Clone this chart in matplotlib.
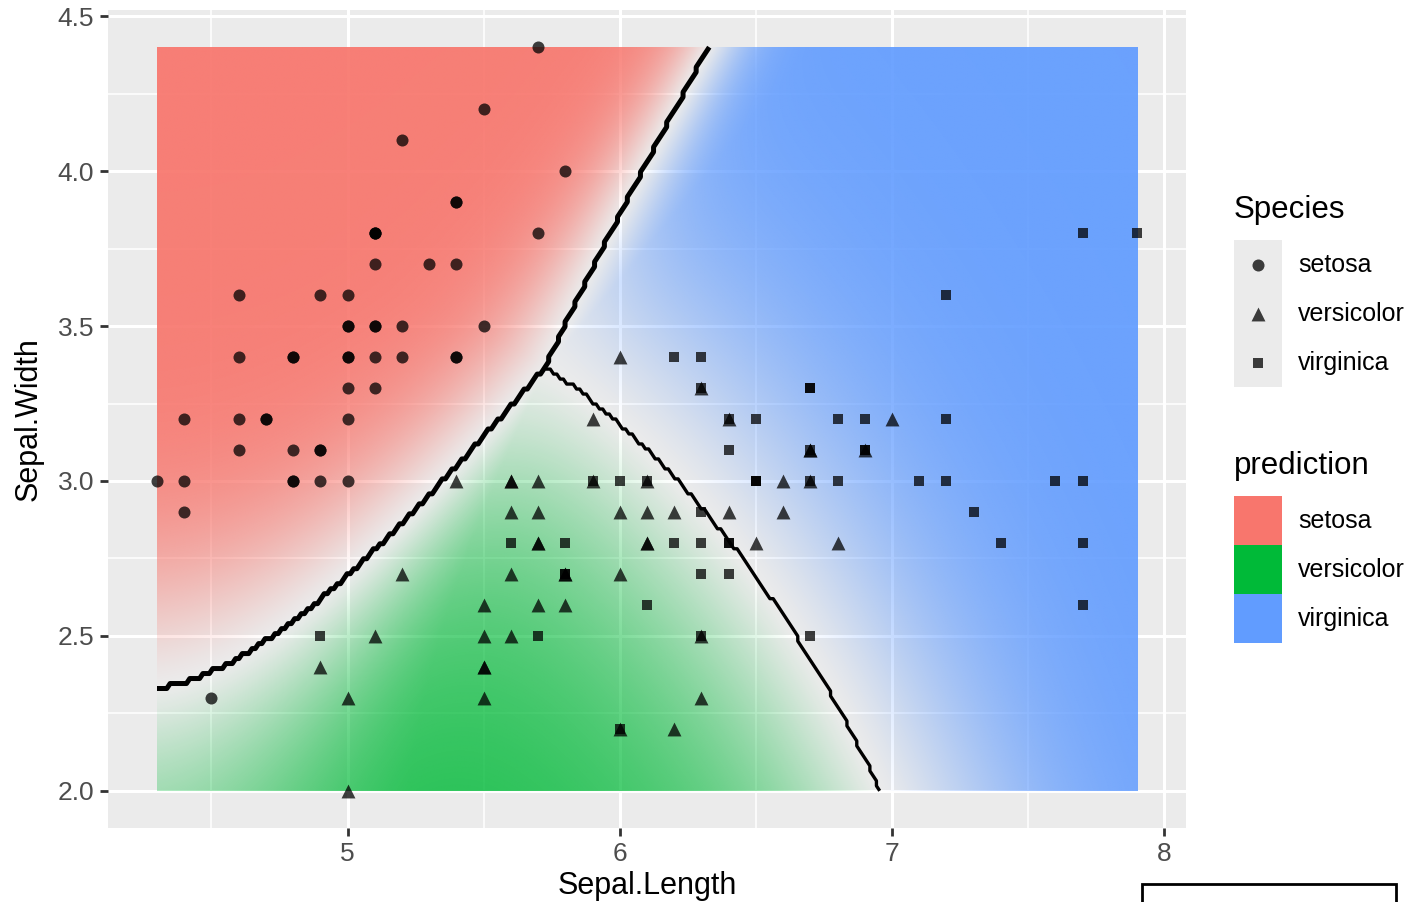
import numpy as np
import matplotlib.pyplot as plt
from matplotlib.patches import Rectangle

plt.rcParams['font.family'] = ['Liberation Sans', 'DejaVu Sans']

# iris data (Sepal.Length, Sepal.Width)
species = ['setosa', 'versicolor', 'virginica']
setosa_len = [5.1, 4.9, 4.7, 4.6, 5.0, 5.4, 4.6, 5.0, 4.4, 4.9, 5.4, 4.8, 4.8, 4.3, 5.8, 5.7, 5.4, 5.1, 5.7, 5.1,
              5.4, 5.1, 4.6, 5.1, 4.8, 5.0, 5.0, 5.2, 5.2, 4.7, 4.8, 5.4, 5.2, 5.5, 4.9, 5.0, 5.5, 4.9, 4.4, 5.1,
              5.0, 4.5, 4.4, 5.0, 5.1, 4.8, 5.1, 4.6, 5.3, 5.0]
setosa_wid = [3.5, 3.0, 3.2, 3.1, 3.6, 3.9, 3.4, 3.4, 2.9, 3.1, 3.7, 3.4, 3.0, 3.0, 4.0, 4.4, 3.9, 3.5, 3.8, 3.8,
              3.4, 3.7, 3.6, 3.3, 3.4, 3.0, 3.4, 3.5, 3.4, 3.2, 3.1, 3.4, 4.1, 4.2, 3.1, 3.2, 3.5, 3.6, 3.0, 3.4,
              3.5, 2.3, 3.2, 3.5, 3.8, 3.0, 3.8, 3.2, 3.7, 3.3]
versicolor_len = [7.0, 6.4, 6.9, 5.5, 6.5, 5.7, 6.3, 4.9, 6.6, 5.2, 5.0, 5.9, 6.0, 6.1, 5.6, 6.7, 5.6, 5.8, 6.2, 5.6,
                  5.9, 6.1, 6.3, 6.1, 6.4, 6.6, 6.8, 6.7, 6.0, 5.7, 5.5, 5.5, 5.8, 6.0, 5.4, 6.0, 6.7, 6.3, 5.6, 5.5,
                  5.5, 6.1, 5.8, 5.0, 5.6, 5.7, 5.7, 6.2, 5.1, 5.7]
versicolor_wid = [3.2, 3.2, 3.1, 2.3, 2.8, 2.8, 3.3, 2.4, 2.9, 2.7, 2.0, 3.0, 2.2, 2.9, 2.9, 3.1, 3.0, 2.7, 2.2, 2.5,
                  3.2, 2.8, 2.5, 2.8, 2.9, 3.0, 2.8, 3.0, 2.9, 2.6, 2.4, 2.4, 2.7, 2.7, 3.0, 3.4, 3.1, 2.3, 3.0, 2.5,
                  2.6, 3.0, 2.6, 2.3, 2.7, 3.0, 2.9, 2.9, 2.5, 2.8]
virginica_len = [6.3, 5.8, 7.1, 6.3, 6.5, 7.6, 4.9, 7.3, 6.7, 7.2, 6.5, 6.4, 6.8, 5.7, 5.8, 6.4, 6.5, 7.7, 7.7, 6.0,
                 6.9, 5.6, 7.7, 6.3, 6.7, 7.2, 6.2, 6.1, 6.4, 7.2, 7.4, 7.9, 6.4, 6.3, 6.1, 7.7, 6.3, 6.4, 6.0, 6.9,
                 6.7, 6.9, 5.8, 6.8, 6.7, 6.7, 6.3, 6.5, 6.2, 5.9]
virginica_wid = [3.3, 2.7, 3.0, 2.9, 3.0, 3.0, 2.5, 2.9, 2.5, 3.6, 3.2, 2.7, 3.0, 2.5, 2.8, 3.2, 3.0, 3.8, 2.6, 2.2,
                 3.2, 2.8, 2.8, 2.7, 3.3, 3.2, 2.8, 3.0, 2.8, 3.0, 2.8, 3.8, 2.8, 2.8, 2.6, 3.0, 3.4, 3.1, 3.0, 3.1,
                 3.1, 3.1, 2.7, 3.2, 3.3, 3.0, 2.5, 3.0, 3.4, 3.0]

lengths = [setosa_len, versicolor_len, virginica_len]
widths = [setosa_wid, versicolor_wid, virginica_wid]
class_colors = ['#F8766D', '#00BA38', '#619CFF']
markers = ['o', '^', 's']
sizes = [75, 100, 62]

xmin, xmax = min(min(l) for l in lengths), max(max(l) for l in lengths)
ymin, ymax = min(min(w) for w in widths), max(max(w) for w in widths)


# naive Bayes (gaussian, equal priors) fitted on the iris points
def nb_logp(GX, GY):
    out = []
    for l, w in zip(lengths, widths):
        mx, sx = np.mean(l), np.std(l, ddof=1)
        my, sy = np.mean(w), np.std(w, ddof=1)
        out.append(-0.5 * ((GX - mx) / sx) ** 2 - 0.5 * ((GY - my) / sy) ** 2 - np.log(sx * sy))
    return np.array(out)


# fine grid for the shaded surface
gx = np.linspace(xmin, xmax, 361)
gy = np.linspace(ymin, ymax, 241)
GX, GY = np.meshgrid(gx, gy)
logp = nb_logp(GX, GY)
post = np.exp(logp - logp.max(axis=0))
post = post / post.sum(axis=0)
srt = np.sort(post, axis=0)
strength = srt[-1] - srt[-2]
cls = np.argmax(post, axis=0)

rgb_cols = np.array([plt.matplotlib.colors.to_rgb(c) for c in class_colors])
rgba = np.zeros(cls.shape + (4,))
rgba[..., :3] = rgb_cols[cls]
rgba[..., 3] = 0.93 * strength ** 1.2

# coarser grid for the (stepped) boundary lines
cx = np.linspace(xmin, xmax, 300)
cy = np.linspace(ymin, ymax, 150)
CX, CY = np.meshgrid(cx, cy)
ccls = np.argmax(nb_logp(CX, CY), axis=0)

# ---------------- figure ----------------
W, H = 1424, 902
fig = plt.figure(figsize=(W / 100, H / 100), dpi=100)
ax = fig.add_axes([108 / W, 1 - 828 / H, 1078 / W, 818 / H])
ax.set_facecolor('#EBEBEB')
for s in ax.spines.values():
    s.set_visible(False)

ax.set_xlim(4.12, 8.08)
ax.set_ylim(1.88, 4.52)
ax.set_xticks([5, 6, 7, 8])
ax.set_yticks([2.0, 2.5, 3.0, 3.5, 4.0, 4.5])
ax.set_yticklabels(['2.0', '2.5', '3.0', '3.5', '4.0', '4.5'])
ax.set_xticks([4.5, 5.5, 6.5, 7.5], minor=True)
ax.set_yticks([2.25, 2.75, 3.25, 3.75, 4.25], minor=True)
ax.grid(which='major', color='white', lw=2.2, zorder=0)
ax.grid(which='minor', color='white', lw=1.1, zorder=0)
ax.set_axisbelow(True)
ax.tick_params(which='major', length=6, width=2, color='#333333', labelcolor='#4D4D4D',
               labelsize=19, pad=4)
ax.tick_params(which='minor', length=0)

ax.imshow(rgba, extent=(gx[0], gx[-1], gy[0], gy[-1]), origin='lower', aspect='auto',
          interpolation='bilinear', zorder=1)

# decision boundaries
ax.contour(CX, CY, (ccls == 0).astype(float), levels=[0.5], colors='black', linewidths=3.6, zorder=2)
vv = np.where(ccls == 0, np.nan, (ccls == 1).astype(float))
ax.contour(CX, CY, vv, levels=[0.5], colors='black', linewidths=2.4, zorder=2)

for l, w, m, sz in zip(lengths, widths, markers, sizes):
    ax.scatter(l, w, marker=m, s=sz, c='black', alpha=0.75, linewidths=0, zorder=3)

ax.set_xlabel('Sepal.Length', fontsize=22, labelpad=4)
ax.set_ylabel('Sepal.Width', fontsize=22, labelpad=10)

# ---------------- legends ----------------
lax = fig.add_axes([0, 0, 1, 1])
lax.set_xlim(0, W)
lax.set_ylim(H, 0)
lax.axis('off')

lax.text(1234, 210, 'Species', fontsize=22.5, va='center', ha='left')
lax.add_patch(Rectangle((1234, 240), 48, 147, color='#EBEBEB', lw=0))
for i, (sp, m, sz) in enumerate(zip(species, markers, sizes)):
    yc = 265 + i * 49
    lax.scatter([1258], [yc], marker=m, s=sz, c='black', alpha=0.75, linewidths=0)
    lax.text(1298, yc, sp, fontsize=18, va='center', ha='left')

lax.text(1234, 466, 'prediction', fontsize=22.5, va='center', ha='left')
for i, (sp, c) in enumerate(zip(species, class_colors)):
    y0 = 496 + i * 49
    lax.add_patch(Rectangle((1234, y0), 48, 49, color=c, lw=0))
    lax.text(1298, y0 + 25, sp, fontsize=18, va='center', ha='left')

# partially visible box at bottom right
lax.add_patch(Rectangle((1142, 884), 254, 40, facecolor='white', edgecolor='black', lw=2, clip_on=False))

fig.savefig('out.png', dpi=100)
